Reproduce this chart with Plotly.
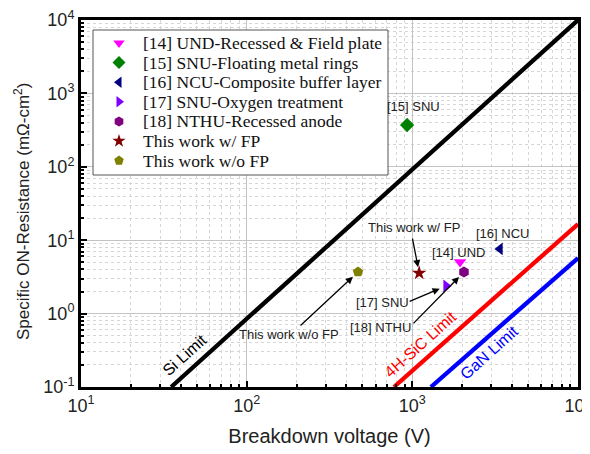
import numpy as np
import plotly.graph_objects as go

# ---------------- data ----------------
names = ["[14] UND-Recessed &amp; Field plate", "[15] SNU-Floating metal rings",
         "[16] NCU-Composite buffer layer", "[17] SNU-Oxygen treatment",
         "[18] NTHU-Recessed anode", "This work w/ FP", "This work w/o FP"]
bv = [1940, 930, 3380, 1600, 2050, 1100, 470]          # breakdown voltage (V)
ron = [5.05, 371, 7.6, 2.38, 3.7, 3.57, 3.7]            # specific Ron (mOhm-cm2)
symbols = ["triangle-down", "diamond", "triangle-left", "triangle-right",
           "hexagon", "star", "pentagon"]
colors = ["#ff00ff", "#008000", "#000080", "#7f00ff", "#800080", "#800000", "#808000"]

si_v, si_r = [35, 10000], [0.1, 10000]
sic_v, sic_r = [774, 10000], [0.1, 16.6]
gan_v, gan_r = [1294, 10000], [0.1, 5.7]

x_tickvals = [10, 100, 1000, 10000]
x_ticktext = ["10<sup>1</sup>", "10<sup>2</sup>", "10<sup>3</sup>", "10<sup>4</sup>"]
y_tickvals = [0.1, 1, 10, 100, 1000, 10000]
y_ticktext = ["10<sup>-1</sup>", "10<sup>0</sup>", "10<sup>1</sup>", "10<sup>2</sup>",
              "10<sup>3</sup>", "10<sup>4</sup>"]

# ---------------- geometry (page pixels of plot area) ----------------
X0, X1, Y0, Y1 = 81, 578, 20, 387
OFF = 8  # default page body margin


def fx(x):
    return (x - X0) / (X1 - X0)


def fy(y):
    return (Y1 - y) / (Y1 - Y0)


def pp(x, y):
    return dict(x=fx(x), y=fy(y), xref="paper", yref="paper")


# ---------------- figure ----------------
fig = go.Figure()
for v, r, c in [(si_v, si_r, "black"), (sic_v, sic_r, "#ff0000"), (gan_v, gan_r, "#0000ff")]:
    fig.add_trace(go.Scatter(x=v, y=r, mode="lines", line=dict(color=c, width=4.3),
                             showlegend=False, hoverinfo="skip"))
for n, x, y, s, c in zip(names, bv, ron, symbols, colors):
    fig.add_trace(go.Scatter(x=[x], y=[y], mode="markers", name=n, showlegend=False,
                             marker=dict(symbol=s, color=c, size=11, line=dict(width=0))))

# hand-drawn legend on an invisible overlay axis (0..1 over the plot area)
bx0, bx1, by0, by1 = fx(93), fx(388), fy(175), fy(30)
fig.add_trace(go.Scatter(x=[bx0, bx1, bx1, bx0, bx0], y=[by0, by0, by1, by1, by0],
                         mode="lines", fill="toself", fillcolor="white",
                         line=dict(color="#555", width=1), xaxis="x2", yaxis="y2",
                         showlegend=False, hoverinfo="skip"))
leg_y = [fy(43 + 19.6 * i) for i in range(len(names))]
fig.add_trace(go.Scatter(x=[fx(119)] * len(names), y=leg_y, mode="markers",
                         marker=dict(symbol=symbols, color=colors, size=10, line=dict(width=0)),
                         xaxis="x2", yaxis="y2", showlegend=False, hoverinfo="skip"))

minor_x = [m * 10 ** k for k in range(1, 4) for m in range(2, 10)]
minor_y = [m * 10 ** k for k in range(-1, 4) for m in range(2, 10)]

axis_common = dict(type="log", showline=True, linecolor="black", linewidth=3, mirror=True,
                   ticks="inside", ticklen=6, tickwidth=1.5, tickcolor="black",
                   showgrid=True, gridcolor="#c4c4c4", gridwidth=1, zeroline=False,
                   tickmode="array", automargin=False, ticklabeloverflow="allow",
                   tickfont=dict(family="Liberation Sans, Arial", size=18, color="#222"))
fig.update_xaxes(**axis_common, range=[1, 4], tickvals=x_tickvals, ticktext=x_ticktext,
                 minor=dict(tickmode="array", tickvals=minor_x, ticks="inside", ticklen=3,
                            tickcolor="black", showgrid=True, gridcolor="#d6d6d6",
                            griddash="dot", gridwidth=1),
                 title=dict(text="Breakdown voltage (V)", standoff=15,
                            font=dict(family="Liberation Sans, Arial", size=20, color="#222")))
fig.update_yaxes(**axis_common, range=[-1, 4], tickvals=y_tickvals, ticktext=y_ticktext,
                 minor=dict(tickmode="array", tickvals=minor_y, ticks="inside", ticklen=3,
                            tickcolor="black", showgrid=True, gridcolor="#d6d6d6",
                            griddash="dot", gridwidth=1))

anns = []
lab_font = dict(family="Liberation Sans, Arial", size=13, color="#222")
labels = [("[15] SNU", 413, 106), ("This work w/ FP", 414, 228), ("[14] UND", 458, 252),
          ("[16] NCU", 502, 234), ("[17] SNU", 382, 302), ("[18] NTHU", 380, 327),
          ("This work w/o FP", 289, 334)]
for t, x, y in labels:
    anns.append(dict(text=t, showarrow=False, font=lab_font, xanchor="center",
                     yanchor="middle", **pp(x, y)))

# arrows: (point index, tail offset x, tail offset y, standoff)
arrows = [(5, -7, -36, 6), (3, -38, 16, 7), (4, -52, 53, 7), (6, -59, 55, 7)]
for i, ax, ay, so in arrows:
    anns.append(dict(text="", x=np.log10(bv[i]), y=np.log10(ron[i]), xref="x", yref="y",
                     showarrow=True, ax=ax, ay=ay, arrowhead=2, arrowsize=1.1,
                     arrowwidth=1.3, arrowcolor="black", standoff=so))

lim_font = dict(family="Liberation Sans, Arial", size=16)
for t, c, x, y in [("Si Limit", "black", 184, 355), ("4H-SiC Limit", "#ff0000", 420, 344),
                   ("GaN Limit", "#0000ff", 489, 352)]:
    anns.append(dict(text=t, textangle=-42, showarrow=False, xanchor="center",
                     yanchor="middle", font=dict(**lim_font, color=c), **pp(x, y)))

# legend texts
leg_font = dict(family="Liberation Serif, Times New Roman", size=17.5, color="#111")
for n, yv in zip(names, leg_y):
    anns.append(dict(text=n, showarrow=False, xanchor="left", yanchor="middle",
                     x=fx(141), y=yv, xref="paper", yref="paper", font=leg_font))

anns.append(dict(text="Specific ON-Resistance (mΩ-cm<sup>2</sup>)", textangle=-90,
                 showarrow=False, font=dict(family="Liberation Sans, Arial", size=17, color="#222"),
                 xanchor="center", yanchor="middle", **pp(22, 212)))

fig.update_layout(
    width=590 - OFF, height=454 - OFF,
    margin=dict(l=X0 - OFF, r=590 - X1, t=Y0 - OFF, b=454 - Y1),
    plot_bgcolor="white", paper_bgcolor="white",
    annotations=anns, showlegend=False,
    xaxis2=dict(overlaying="x", range=[0, 1], visible=False, fixedrange=True),
    yaxis2=dict(overlaying="y", range=[0, 1], visible=False, fixedrange=True),
)

fig.write_html("out.html")
